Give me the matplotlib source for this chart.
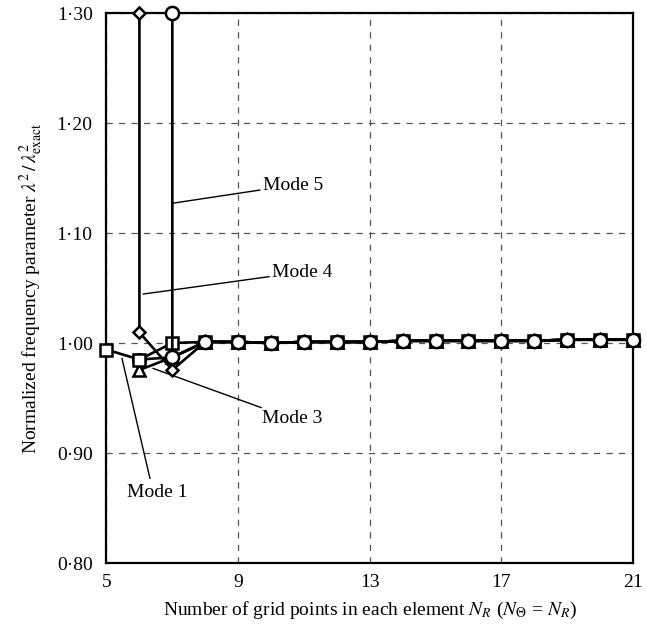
import matplotlib
matplotlib.use("Agg")
import matplotlib.pyplot as plt

plt.rcParams['font.family'] = ['Liberation Serif', 'DejaVu Serif']
plt.rcParams['mathtext.fontset'] = 'stix'

# ---- data ----
tail_N = list(range(8, 22))
tail_v = [1.001, 1.001, 1.000, 1.001, 1.001, 1.001, 1.002, 1.002, 1.002,
          1.002, 1.002, 1.003, 1.003, 1.003]

mode1_x = [5, 6, 7] + tail_N
mode1_y = [0.994, 0.985, 1.000] + tail_v
mode2_x = [6, 7] + tail_N
mode2_y = [0.985, 0.987] + tail_v
mode3_x = [6, 7] + tail_N
mode3_y = [0.9755, 0.987] + tail_v
mode4_x = [6, 6, 7] + tail_N
mode4_y = [1.30, 1.0097, 0.9755] + tail_v
mode5_x = [7, 7] + tail_N
mode5_y = [1.30, 0.987] + tail_v

xticks = [5, 9, 13, 17, 21]
yticks = [0.80, 0.90, 1.00, 1.10, 1.20, 1.30]
ytick_labels = ['0·80', '0·90', '1·00', '1·10', '1·20', '1·30']

fig = plt.figure(figsize=(6.47, 6.29), dpi=100)
ax = fig.add_axes([0.1646, 0.1049, 0.8138, 0.8744])

common = dict(color='black', lw=1.9, mfc='white', mec='black', mew=1.8,
              clip_on=False)
ax.plot(mode2_x, mode2_y, marker='o', ms=9, zorder=3, **common)
ax.plot(mode3_x, mode3_y, marker='^', ms=9, zorder=3, **common)
ax.plot(mode4_x, mode4_y, marker='D', ms=6.5, zorder=4, **common)
ax.plot(mode1_x, mode1_y, marker='s', ms=8.5, zorder=4, **common)
ax.plot(mode5_x, mode5_y, marker='o', ms=9.5, zorder=5, **common)

ax.set_xlim(5, 21)
ax.set_ylim(0.80, 1.30)
ax.set_xticks(xticks)
ax.set_xticklabels([str(t) for t in xticks])
ax.set_yticks(yticks)
ax.set_yticklabels(ytick_labels)
ax.tick_params(length=0, labelsize=14, pad=10)
ax.tick_params(axis='x', pad=8)
ax.grid(True, color='#555555', ls=(0, (5, 5)), lw=0.9)
for s in ax.spines.values():
    s.set_linewidth(1.6)

ax.set_xlabel(r'Number of grid points in each element $N_R$ ($N_{\mathit{\Theta}}$ = $N_R$)',
              fontsize=14, labelpad=6)
ax.set_ylabel(r'Normalized frequency parameter $\lambda^2\,/\,\lambda^2_{\rm exact}$',
              fontsize=14, labelpad=8)

def label(text, xy, xytext, ha='left'):
    ax.annotate(text, xy=xy, xytext=xytext, fontsize=14, ha=ha, va='center',
                arrowprops=dict(arrowstyle='-', color='black', lw=1.0,
                                shrinkA=0, shrinkB=0))

label('Mode 5', (6.99, 1.127), (9.75, 1.1436))
label('Mode 4', (6.11, 1.0445), (10.03, 1.0645))
label('Mode 3', (6.41, 0.977), (9.73, 0.931))
ax.annotate('Mode 1', xy=(5.47, 0.986), xytext=(6.53, 0.8645), fontsize=14,
            ha='center', va='center')
ax.plot([5.47, 6.32], [0.986, 0.877], color='black', lw=1.0, zorder=6)

fig.savefig('out.png', dpi=100)
